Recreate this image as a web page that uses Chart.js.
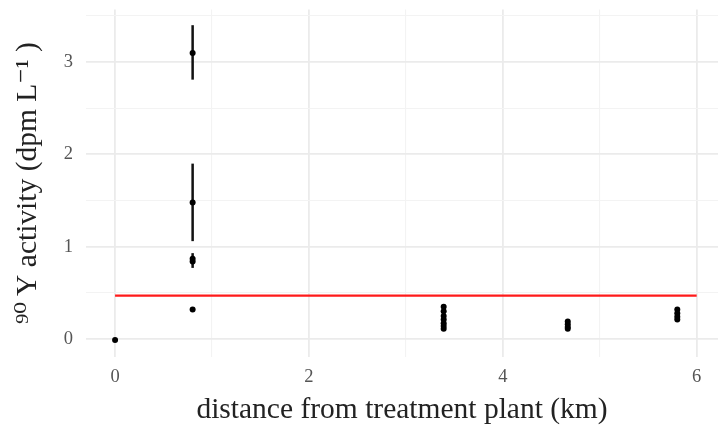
<!DOCTYPE html>
<html>
<head>
<meta charset="utf-8">
<script src="https://cdn.jsdelivr.net/npm/chart.js@4.4.1/dist/chart.umd.min.js"></script>
<style>
  html, body { margin: 0; padding: 0; background: #fff; }
</style>
</head>
<body>
<canvas id="yChart" width="722" height="427"></canvas>
<script>
// sampling sites: distance downstream (km) and measured 90Y activity (dpm/L)
var distance = [0, 0.8, 0.8, 0.8, 0.8, 0.8,
                3.39, 3.39, 3.39, 3.39, 3.39, 3.39, 3.39,
                4.67, 4.67, 4.67, 4.67,
                5.8, 5.8, 5.8, 5.8];
var activity = [-0.01, 3.10, 1.48, 0.87, 0.84, 0.32,
                0.35, 0.30, 0.25, 0.21, 0.17, 0.14, 0.11,
                0.19, 0.16, 0.13, 0.11,
                0.32, 0.28, 0.24, 0.21];
var errLow  = [-0.02, 2.81, 1.06, 0.81, 0.77, 0.31,
               0.34, 0.29, 0.24, 0.20, 0.16, 0.13, 0.10,
               0.18, 0.15, 0.12, 0.10,
               0.31, 0.27, 0.23, 0.20];
var errHigh = [0.00, 3.40, 1.90, 0.93, 0.90, 0.33,
               0.36, 0.31, 0.26, 0.22, 0.18, 0.15, 0.12,
               0.20, 0.17, 0.14, 0.12,
               0.33, 0.29, 0.25, 0.22];

// detection limit drawn across the sampled range
var limitX = [0, 6];
var limitY = [0.47, 0.47];

var xTicks = [0, 1, 2, 3, 4, 5, 6];
var yTicks = [0, 0.5, 1, 1.5, 2, 2.5, 3, 3.5];

var serif = "'Liberation Serif', 'Times New Roman', 'DejaVu Serif', serif";

var errorBars = {
  id: 'errorBars',
  beforeDatasetsDraw: function (chart) {
    var ctx = chart.ctx;
    var xs = chart.scales.x, ys = chart.scales.y;
    ctx.save();
    ctx.strokeStyle = '#111';
    ctx.lineWidth = 2.5;
    for (var i = 0; i < distance.length; i++) {
      var px = xs.getPixelForValue(distance[i]);
      ctx.beginPath();
      ctx.moveTo(px, ys.getPixelForValue(errLow[i]));
      ctx.lineTo(px, ys.getPixelForValue(errHigh[i]));
      ctx.stroke();
    }
    ctx.restore();
  }
};

function gridColor(ctx, step) {
  return ctx.tick && ctx.tick.value % step === 0 ? '#ebebeb' : '#f3f3f3';
}
function gridWidth(ctx, step) {
  return ctx.tick && ctx.tick.value % step === 0 ? 1.8 : 1.1;
}

// no extra room for half tick labels at the panel edges
function noEdgePadding(scale) {
  scale.paddingTop = 0;
  scale.paddingBottom = 0;
  scale.paddingLeft = 0;
  scale.paddingRight = 0;
}

new Chart(document.getElementById('yChart'), {
  type: 'scatter',
  data: {
    datasets: [{
      type: 'line',
      data: limitX.map(function (x, i) { return { x: x, y: limitY[i] }; }),
      borderColor: '#ff1a1a',
      borderWidth: 2.2,
      pointRadius: 0,
      fill: false
    }, {
      data: distance.map(function (x, i) { return { x: x, y: activity[i] }; }),
      backgroundColor: '#000',
      borderWidth: 0,
      pointRadius: 3
    }]
  },
  options: {
    responsive: false,
    devicePixelRatio: 1,
    animation: false,
    layout: { padding: { top: 9.5, right: 0, left: 0, bottom: 0 } },
    plugins: {
      legend: { display: false },
      tooltip: { enabled: false }
    },
    scales: {
      x: {
        type: 'linear',
        min: -0.3,
        max: 6.22,
        afterBuildTicks: function (scale) {
          scale.ticks = xTicks.map(function (v) { return { value: v }; });
        },
        afterFit: function (scale) { scale.height = 70.5; noEdgePadding(scale); },
        border: { display: false },
        grid: {
          drawTicks: false,
          color: function (c) { return gridColor(c, 2); },
          lineWidth: function (c) { return gridWidth(c, 2); }
        },
        ticks: {
          padding: 10,
          color: '#555',
          font: { family: serif, size: 18.5 },
          callback: function (v) { return v % 2 === 0 ? v : ''; }
        },
        title: {
          display: true,
          text: 'distance from treatment plant (km)',
          color: '#222',
          font: { family: serif, size: 29.5 },
          padding: { top: 0, bottom: -1 }
        }
      },
      y: {
        type: 'linear',
        min: -0.19,
        max: 3.57,
        afterBuildTicks: function (scale) {
          scale.ticks = yTicks.map(function (v) { return { value: v }; });
        },
        afterFit: function (scale) { scale.width = 86; noEdgePadding(scale); },
        border: { display: false },
        grid: {
          drawTicks: false,
          color: function (c) { return gridColor(c, 1); },
          lineWidth: function (c) { return gridWidth(c, 1); }
        },
        ticks: {
          padding: 13,
          color: '#555',
          font: { family: serif, size: 18.5 },
          callback: function (v) { return v % 1 === 0 ? v : ''; }
        },
        title: {
          display: true,
          text: '\u2079\u2070\u2009Y activity (dpm L\u207B\u00B9 )',
          color: '#222',
          font: { family: serif, size: 29.5 },
          padding: { top: 11, bottom: 0 }
        }
      }
    }
  },
  plugins: [errorBars]
});
</script>
</body>
</html>
